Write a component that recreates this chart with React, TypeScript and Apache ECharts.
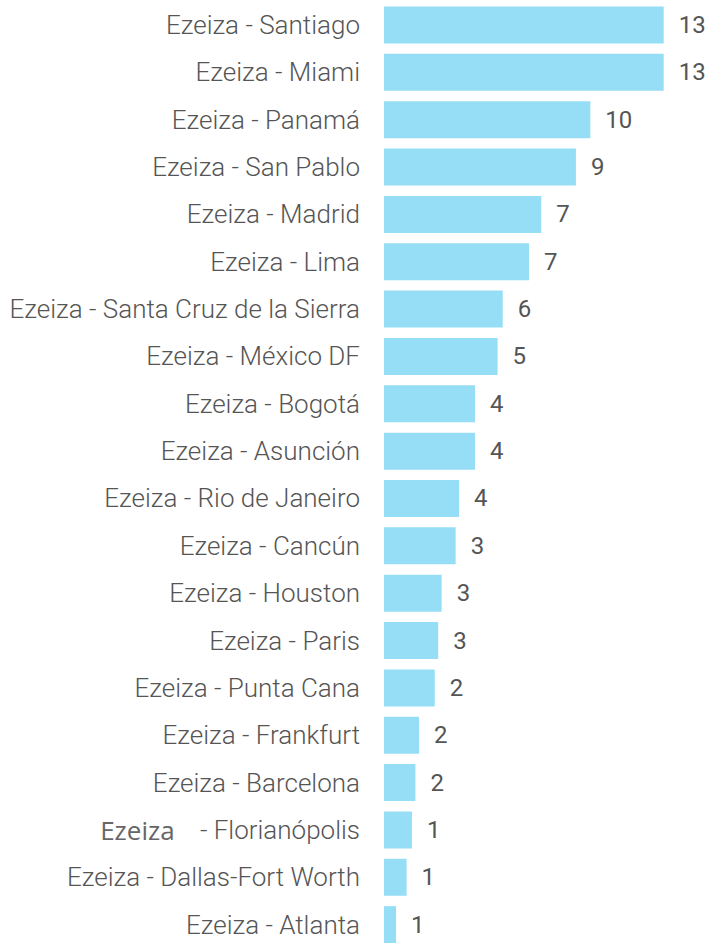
import React, { useEffect, useRef } from "react";
import * as echarts from "echarts";

const categories = [
  "Ezeiza - Santiago",
  "Ezeiza - Miami",
  "Ezeiza - Panamá",
  "Ezeiza - San Pablo",
  "Ezeiza - Madrid",
  "Ezeiza - Lima",
  "Ezeiza - Santa Cruz de la Sierra",
  "Ezeiza - México DF",
  "Ezeiza - Bogotá",
  "Ezeiza - Asunción",
  "Ezeiza - Rio de Janeiro",
  "Ezeiza - Cancún",
  "Ezeiza - Houston",
  "Ezeiza - Paris",
  "Ezeiza - Punta Cana",
  "Ezeiza - Frankfurt",
  "Ezeiza - Barcelona",
  "Ezeiza - Florianópolis",
  "Ezeiza - Dallas-Fort Worth",
  "Ezeiza - Atlanta",
];

// bar lengths as drawn (same unit as labels)
const barValues = [
  13, 13, 9.59, 8.92, 7.31, 6.74, 5.52, 5.28, 4.23, 4.23, 3.49, 3.33, 2.68,
  2.52, 2.36, 1.63, 1.46, 1.3, 1.05, 0.56,
];

// printed value labels
const labelValues = [13, 13, 10, 9, 7, 7, 6, 5, 4, 4, 4, 3, 3, 3, 2, 2, 2, 1, 1, 1];

const axisMax = 13;

export default function App() {
  const ref = useRef<HTMLDivElement>(null);
  useEffect(() => {
    if (!ref.current) return;
    const chart = echarts.init(ref.current, null, { renderer: "svg" });
    chart.setOption({
      animation: false,
      backgroundColor: "#ffffff",
      grid: { left: 384, top: 1.3, width: 279.7, height: 947 },
      xAxis: {
        type: "value",
        min: 0,
        max: axisMax,
        show: false,
      },
      yAxis: {
        type: "category",
        inverse: true,
        data: categories,
        axisLine: { show: false },
        axisTick: { show: false },
        splitLine: { show: false },
        axisLabel: {
          margin: 24,
          formatter: (v: string) => {
            if (v.indexOf("Florianópolis") >= 0) {
              return "{e|Ezeiza}{n|    - Florianópolis}";
            }
            return "{n|" + v + "}";
          },
          rich: {
            n: {
              fontFamily: "Roboto",
              fontWeight: 300,
              fontSize: 26,
              color: "#555555",
            },
            e: {
              fontFamily: "Open Sans",
              fontWeight: 400,
              fontSize: 26,
              color: "#666666",
            },
          },
        },
      },
      series: [
        {
          type: "bar",
          data: barValues,
          barWidth: 37,
          itemStyle: { color: "#96DEF6" },
          label: {
            show: true,
            position: "right",
            distance: 15,
            padding: [2, 0, 0, 0],
            fontFamily: "Roboto",
            fontWeight: 400,
            fontSize: 24,
            color: "#555555",
            formatter: (p: any) => String(labelValues[p.dataIndex]),
          },
        },
      ],
    });
    return () => chart.dispose();
  }, []);
  return (
    <div
      ref={ref}
      style={{ position: "fixed", left: 0, top: 0, width: 716, height: 950 }}
    />
  );
}
